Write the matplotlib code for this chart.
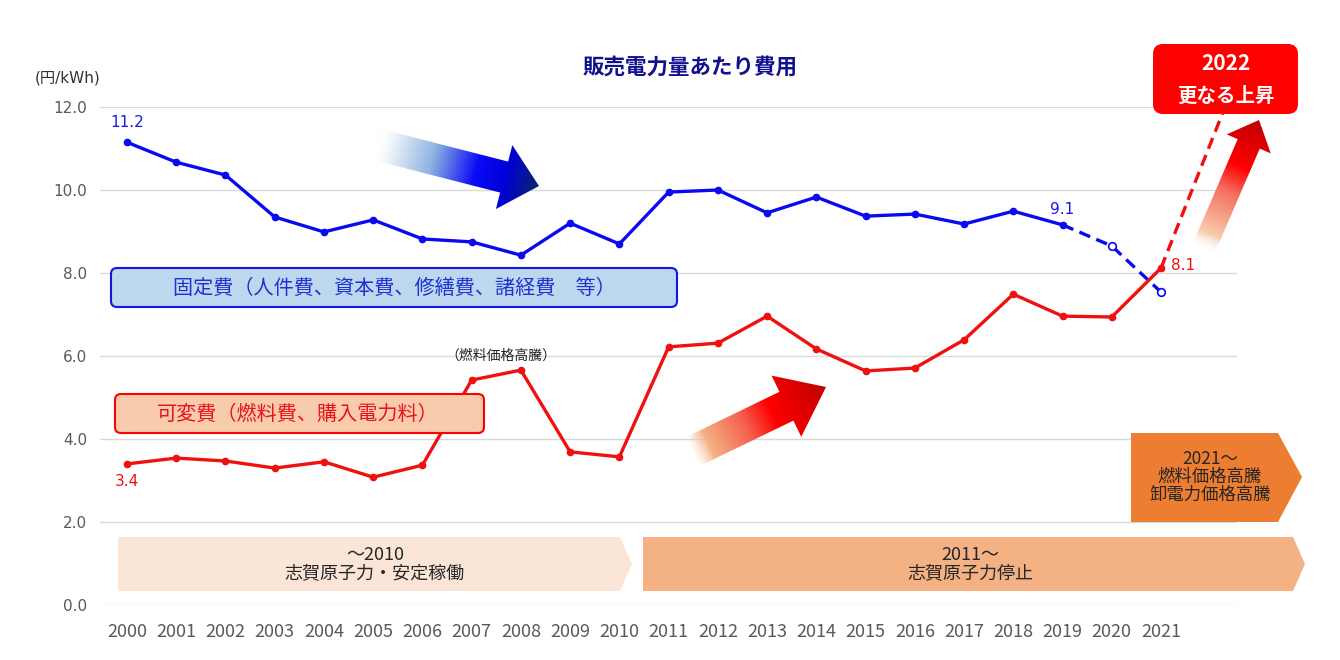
import numpy as np
import matplotlib
matplotlib.use("Agg")
import matplotlib.pyplot as plt
from matplotlib.patches import Polygon, FancyBboxPatch
from matplotlib.colors import LinearSegmentedColormap, to_rgba

plt.rcParams['font.family'] = ['Noto Sans CJK JP', 'DejaVu Sans']
NUM_FONT = ['DejaVu Sans', 'Noto Sans CJK JP']

# data (円/kWh)
years = list(range(2000, 2022))
fixed_cost = [11.15, 10.67, 10.36, 9.35, 8.99, 9.28, 8.82, 8.75, 8.43, 9.2, 8.7,
              9.95, 10.0, 9.45, 9.83, 9.37, 9.42, 9.18, 9.49, 9.16]
fixed_est_years = [2019, 2020, 2021]
fixed_est = [9.16, 8.65, 7.54]
var_cost = [3.4, 3.54, 3.47, 3.3, 3.45, 3.08, 3.37, 5.42, 5.66, 3.69, 3.57,
            6.22, 6.31, 6.96, 6.17, 5.64, 5.71, 6.39, 7.49, 6.96, 6.94, 8.12]
var_fc_years = [2021, 2022.5]
var_fc = [8.12, 12.6]
yticks = [0, 2, 4, 6, 8, 10, 12]

BLUE = '#0A0AF0'
RED = '#F01010'

fig = plt.figure(figsize=(13.4, 6.6), dpi=100)
ax = fig.add_axes([100/1340, 1-605/660, 1137/1340, 498/660])

ax.plot(years[:len(fixed_cost)], fixed_cost, color=BLUE, lw=2.4, marker='o', ms=4.5, zorder=3)
ax.plot(fixed_est_years, fixed_est, color=BLUE, lw=2.4, ls=(0, (3.5, 2)), zorder=3)
ax.plot(fixed_est_years[1:], fixed_est[1:], ls='none', marker='o', ms=5.5,
        mfc='white', mec=BLUE, mew=1.2, zorder=4)
ax.plot(years, var_cost, color=RED, lw=2.4, marker='o', ms=4.5, zorder=3)
ax.plot(var_fc_years, var_fc, color=RED, lw=2.4, ls=(0, (3.5, 2)), zorder=3, clip_on=False)

ax.text(years[0], fixed_cost[0] + 0.3, '11.2', color='#1A1AE0', fontsize=11, ha='center',
        va='bottom', family=NUM_FONT)
ax.text(years[0], var_cost[0] - 0.25, '3.4', color=RED, fontsize=11, ha='center', va='top',
        family=NUM_FONT)
ax.text(fixed_est_years[0], fixed_est[0] + 0.2, '9.1', color='#1A1AE0', fontsize=11, ha='center',
        va='bottom', family=NUM_FONT)
ax.text(years[-1] + 0.2, var_cost[-1] + 0.05, '8.1', color=RED, fontsize=11, ha='left',
        va='center', family=NUM_FONT)
ax.text(years[7] + 0.6, 6.0, '（燃料価格高騰）', color='#222222', fontsize=10, ha='center', va='center')

ax.set_xlim(2000 - 27/49.24, 2000 + 1110/49.24)
ax.set_ylim(0, 12)
ax.set_yticks(yticks)
ax.set_yticklabels([f'{v:.1f}' for v in yticks], color='#595959', fontsize=11, family=NUM_FONT)
ax.set_xticks(years)
ax.set_xticklabels([str(y) for y in years], color='#595959', fontsize=13)
ax.tick_params(length=0)
ax.tick_params(axis='x', pad=13)
ax.tick_params(axis='y', pad=9)
ax.grid(axis='y', color='#D9D9D9', lw=1)
ax.set_axisbelow(True)
for s in ax.spines.values():
    s.set_visible(False)

fig.text(690/1340, 1-67/660, '販売電力量あたり費用', color='#101090', fontsize=15.5,
         fontweight='bold', ha='center', va='center')
fig.text(68/1340, 1-78/660, '(円/kWh)', color='#333333', fontsize=11, ha='center', va='center',
         family=NUM_FONT)

# overlay in figure pixel coords for the annotations
ov = fig.add_axes([0, 0, 1, 1], zorder=5)
ov.patch.set_alpha(0)
ov.axis('off')


def grad_arrow(tail, tip, shaft_w, head_w, head_len, stops):
    tail = np.array(tail, float)
    tip = np.array(tip, float)
    d = tip - tail
    L = np.hypot(*d)
    u = d / L
    n = np.array([-u[1], u[0]])
    base = tip - u * head_len
    pts = [tail + n*shaft_w/2, base + n*shaft_w/2, base + n*head_w/2, tip,
           base - n*head_w/2, base - n*shaft_w/2, tail - n*shaft_w/2]
    pts = np.array(pts)
    poly = Polygon(pts, closed=True, fc='none', ec='none')
    ov.add_patch(poly)
    x0, y0 = pts.min(axis=0)
    x1, y1 = pts.max(axis=0)
    X, Y = np.meshgrid(np.arange(x0, x1 + 1), np.arange(y0, y1 + 1))
    t = np.clip(((X - tail[0])*u[0] + (Y - tail[1])*u[1]) / L, 0, 1)
    cmap = LinearSegmentedColormap.from_list('g', [(p, to_rgba(c, a)) for p, c, a in stops])
    im = ov.imshow(cmap(t), extent=(x0, x1, y1, y0), origin='upper', interpolation='bilinear')
    im.set_clip_path(poly)


grad_arrow((375, 144), (539, 186), 32, 66, 36,
           [(0, '#FFFFFF', 0), (0.12, '#E4EEF8', 1), (0.35, '#8DB4E2', 1),
            (0.62, '#0A0AF5', 1), (0.8, '#0000D8', 1), (1, '#0A2470', 1)])
grad_arrow((692, 452), (826, 387), 32, 68, 44,
           [(0, '#F8CBAD', 0), (0.12, '#F4B183', 1), (0.4, '#F46050', 1),
            (0.6, '#FF0000', 1), (1, '#C00000', 1)])
grad_arrow((1203, 250), (1259, 120), 24, 48, 26,
           [(0, '#FFFFFF', 0), (0.12, '#F8CBAD', 1), (0.45, '#F47060', 1),
            (0.65, '#FF0000', 1), (1, '#C00000', 1)])

# legend-like boxes
ov.add_patch(FancyBboxPatch((111, 268), 566, 39, boxstyle='round,pad=0,rounding_size=6',
                            fc='#BDD7EE', ec='#1515E0', lw=1.5))
ov.text(394, 288, '固定費（人件費、資本費、修繕費、諸経費　等）', color='#1F32D0', fontsize=14.5,
        ha='center', va='center')
ov.add_patch(FancyBboxPatch((115, 394), 369, 39, boxstyle='round,pad=0,rounding_size=6',
                            fc='#F8CBAD', ec='#FF0000', lw=1.5))
ov.text(298, 414, '可変費（燃料費、購入電力料）', color='#E8141B', fontsize=14.5,
        ha='center', va='center')

ov.add_patch(FancyBboxPatch((1153, 44), 145, 70, boxstyle='round,pad=0,rounding_size=10',
                            fc='#FF0000', ec='none'))
ov.text(1226, 63, '2022', color='white', fontsize=15, fontweight='bold', ha='center', va='center')
ov.text(1226, 96, '更なる上昇', color='white', fontsize=14, fontweight='bold', ha='center', va='center')

# period bands
ov.add_patch(Polygon([(118, 537), (620, 537), (632, 564), (620, 591), (118, 591)], fc='#FBE5D6', ec='none'))
ov.add_patch(Polygon([(643, 537), (1293, 537), (1305, 564), (1293, 591), (643, 591)], fc='#F4B183', ec='none'))
ov.add_patch(Polygon([(1131, 433), (1278, 433), (1302, 477), (1278, 522), (1131, 522)], fc='#ED7D31', ec='none'))
ov.text(375, 564, '～2010\n志賀原子力・安定稼働', color='#262626', fontsize=13, ha='center', va='center',
        linespacing=1.05)
ov.text(970, 564, '2011～\n志賀原子力停止', color='#262626', fontsize=13, ha='center', va='center',
        linespacing=1.05)
ov.text(1210, 477, '2021～\n燃料価格高騰\n卸電力価格高騰', color='#262626', fontsize=12.5,
        ha='center', va='center', linespacing=1.0)

ov.set_aspect('auto')
ov.set_xlim(0, 1340)
ov.set_ylim(660, 0)

fig.savefig('out.png', dpi=100)
